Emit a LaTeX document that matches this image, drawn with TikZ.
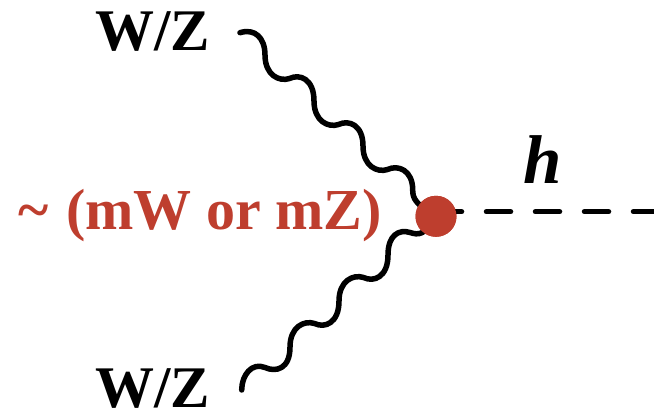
\documentclass[tikz,border=0pt]{standalone}
\usepackage{fontspec}
\setmainfont{Liberation Serif}
\definecolor{brick}{RGB}{190,62,46}
\tikzset{
  wig/.style={line width=5.5pt,line cap=round,line join=round,black},
  higgs/.style={line width=5.5pt,line cap=round,black,dash pattern=on 24pt off 25pt},
  vertexdot/.style={circle,fill=brick,inner sep=0pt,minimum size=41pt},
  wz/.style={font=\bfseries\fontsize{59}{59}\selectfont,inner sep=0pt,anchor=base west},
  coupling/.style={font=\bfseries\fontsize{58}{59}\selectfont,text=brick,inner sep=0pt,anchor=base west},
  hlabel/.style={font=\bfseries\itshape\fontsize{69}{69}\selectfont,inner sep=0pt,anchor=base west}
}
\begin{document}
\begin{tikzpicture}[x=1pt,y=-1pt]
\useasboundingbox (0,0) rectangle (654,413);
\coordinate (ws1) at (240,32.7);
\coordinate (ws2) at (241.7,390);
\coordinate (hs) at (437.5,211.7);
\coordinate (he) at (656,211.7);
\node[vertexdot] (v) at (436,216.3) {};
\draw[higgs] (hs) -- (he);
\draw[wig] (ws1) .. controls (255,28) and (265,38) .. (265,55)
  .. controls (265,75) and (279,82) .. (289.5,78.5)
  .. controls (300,73.5) and (314,79) .. (314,101)
  .. controls (314,121) and (328,128) .. (338.5,124.5)
  .. controls (349,119.5) and (363,125) .. (363,146)
  .. controls (363,166) and (377,173) .. (387.5,169.5)
  .. controls (398,164.5) and (412.7,170) .. (412.7,190)
  .. controls (412.7,198) and (415,204) .. (v.center);
\draw[wig] (ws2) .. controls (241.7,375) and (252,362) .. (265,367.5)
  .. controls (276,372.5) and (290,369) .. (290,347)
  .. controls (290,327) and (304,320) .. (314.5,323.5)
  .. controls (325,328.5) and (339,323) .. (339,301)
  .. controls (339,281) and (353,274) .. (363.5,277.5)
  .. controls (374,282.5) and (388,277) .. (388,255)
  .. controls (388,235) and (399,229) .. (410,232.5)
  .. controls (418,235) and (425,236) .. (v.center);
\node[vertexdot] (dot) at (v.center) {};
\node[wz] (t1) at (95,50.5) {W/Z};
\node[wz] (t2) at (95,407) {W/Z};
\node[coupling] (t3) at (18,229.5) {\char"7E\hspace{0.06em} (mW or mZ)};
\node[hlabel] (t4) at (523,183) {h};
\end{tikzpicture}
\end{document}
